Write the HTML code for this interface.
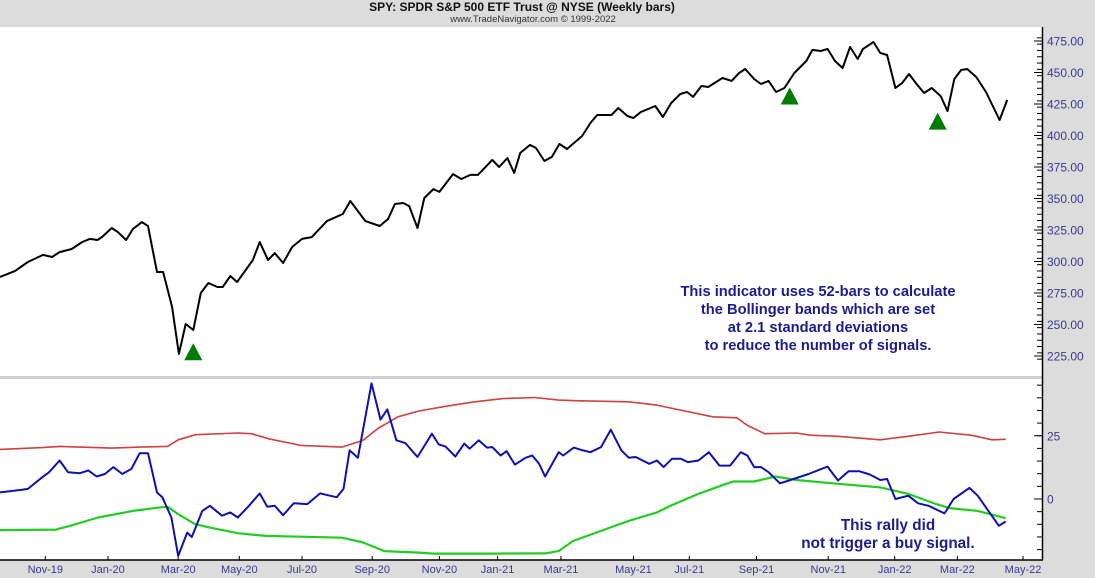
<!DOCTYPE html>
<html><head><meta charset="utf-8">
<style>
html,body{margin:0;padding:0;background:#dcdcdc;}
svg{display:block;font-family:"Liberation Sans",Arial,sans-serif;}
</style></head>
<body>
<svg id="chart" width="1095" height="578" viewBox="0 0 1095 578">
<rect x="0" y="0" width="1095" height="578" fill="#dcdcdc"/>
<g>
<text x="522" y="11" text-anchor="middle" font-size="12" font-weight="bold" fill="#111">SPY:  SPDR S&amp;P 500 ETF Trust @ NYSE  (Weekly bars)</text>
<text x="533" y="22" text-anchor="middle" font-size="9.5" fill="#333">www.TradeNavigator.com © 1999-2022</text>
</g>
<rect x="0" y="27" width="1043" height="349" fill="#fff"/>
<rect x="0" y="376" width="1043" height="3" fill="#d0d0d0"/>
<rect x="0" y="379" width="1043" height="181" fill="#fff"/>
<line x1="1042.5" y1="27" x2="1042.5" y2="560" stroke="#000" stroke-width="1.5"/>
<line x1="0" y1="560" x2="1043" y2="560" stroke="#000" stroke-width="1.5"/>
<g id="axes"></g>
<g id="marks"></g>
<g font-size="14.7" font-weight="bold" fill="#1c1c8e" text-anchor="middle">
<text x="818" y="296">This indicator uses 52-bars to calculate</text>
<text x="818" y="314">the Bollinger bands which are set</text>
<text x="818" y="332">at 2.1 standard deviations</text>
<text x="818" y="350">to reduce the number of signals.</text>
</g>
<g font-size="15.3" font-weight="bold" fill="#1c1c8e" text-anchor="middle">
<text x="888" y="530">This rally did</text>
<text x="888" y="548">not trigger a buy signal.</text>
</g>
</svg>
<script>
// ---- data ----
const priceWeeks=[0,2,3.7,5.7,6.9,7.9,9.5,10.9,11.9,12.9,13.5,14.8,15.6,16.7,17.6,18.8,19.6,20.8,21.6,22.8,23.7,24.6,25.6,26.6,27.6,28.8,29.5,30.5,31.4,33.5,34.4,35.5,36.4,37.5,38.7,40,41.3,43.3,45.4,46.4,48.4,50.3,51.4,52.3,53.4,54.2,55.3,56.2,57.4,58.2,60,61.1,62.3,63.3,65.2,66.1,67.2,68.1,68.9,70.2,71,72.1,73.1,74.1,75.1,77.1,78.2,79.1,81,81.9,83.1,83.9,84.9,86.8,87.8,88.9,90.1,91,91.8,92.9,93.8,95.7,96.9,97.9,98.7,99.9,100.8,101.8,102.8,103.9,105.2,106.8,107.6,108.7,109.6,110.6,111.6,112.6,113.6,114.3,115.7,116.6,117.5,118.6,119.5,120.4,121.4,122.4,123.4,124.6,125.5,126.4,127.3,128.1,129.3,130.6,132.4,133.4];
const priceValues=[287.7,292.5,299.6,305.2,303.6,307.5,309.9,315.5,317.9,317.1,319.4,326.6,323.4,317.1,325.8,331.3,328.2,291.7,291.7,263.9,226.6,250.4,245.6,275.0,282.9,279.8,279.8,288.5,283.7,301.2,315.5,301.2,306.7,298.8,311.5,317.9,319.4,332.1,337.7,348.0,332.1,328.2,333.7,345.6,346.4,344.0,326.6,350.4,357.5,355.2,369.4,365.5,368.7,368.7,380.6,375.0,382.1,370.2,386.1,392.5,390.1,379.8,383.0,393.3,389.3,399.6,409.9,416.3,416.3,421.8,415.5,413.9,418.7,423.4,414.7,425.8,432.9,434.5,430.6,439.3,438.5,445.6,443.3,449.6,452.8,444.8,440.9,443.3,434.5,437.7,449.6,459.1,467.9,467.1,468.7,459.1,453.6,470.2,460.7,468.7,474.2,465.5,463.9,437.7,441.7,448.8,440.9,433.7,437.7,431.3,419.4,444.8,452.0,452.8,446.4,434.5,412.3,428.2];
const oscWeeks=[0,2.8,3.7,5.6,6.5,7.9,9.0,10.6,11.7,12.8,13.9,15.0,16.2,17.4,18.5,19.6,20.8,21.5,22.7,23.6,24.8,25.4,26.8,27.8,29.4,30.5,31.5,32.8,34.4,35.4,36.4,37.5,38.9,40.7,42.4,43.7,44.6,45.5,46.3,47.4,49.2,50.4,51.3,52.5,53.7,55.3,57.2,58.1,59.0,60.3,61.5,62.2,63.4,64.5,65.2,66.3,67.1,68.2,69.6,70.5,71.4,72.2,74.0,74.6,76.0,77.2,78.2,79.6,80.9,82.3,83.3,84.2,86.0,87.0,87.9,89.0,90.2,91.1,92.5,93.9,95.3,96.7,98.1,99.0,99.9,100.8,101.8,103.3,104.5,105.5,107.1,109.6,111.0,112.4,113.8,115.2,116.6,117.5,118.6,120.3,121.6,123.0,125.1,126.3,128.4,129.5,132.3,133.2];
const oscValues=[2.6,3.6,4.0,8.6,10.6,15.2,10.6,10.2,11.3,8.9,9.9,12.6,9.9,11.9,18.1,18.1,2.6,0.7,-7.3,-22.5,-13.3,-15.0,-4.7,-2.7,-6.6,-5.3,-7.3,-3.3,2.2,-3.1,-2.7,-6.4,-1.7,-2.0,2.2,1.3,0.7,4.0,19.2,16.3,45.7,31.4,35.4,23.2,22.1,16.6,25.8,21.6,20.8,16.8,21.9,19.9,23.2,20.3,20.5,17.2,18.9,13.6,16.3,17.2,13.9,8.9,18.5,17.2,20.3,19.2,18.5,20.5,27.4,19.2,16.3,16.6,13.9,15.2,12.6,15.9,15.9,14.6,15.2,18.5,13.2,13.2,18.5,17.2,12.6,12.6,10.6,6.2,7.3,8.3,9.9,12.8,7.3,11.0,11.0,9.7,7.5,7.9,0.0,1.3,-1.7,-2.7,-5.7,0.0,4.4,1.3,-10.6,-8.9];
const upperWeeks=[0,5.6,7.9,14.8,18.5,22.2,23.6,25.9,31.5,33.3,35.6,39.8,45.3,48.1,50.0,52.7,55.5,59.2,62.9,66.6,70.8,74.0,76.8,83.3,87.0,90.7,94.4,97.6,99.0,101.3,105.5,107.3,111.0,116.6,120.3,124.4,128.6,131.4,133.2];
const upperValues=[19.6,20.3,20.8,20.1,20.5,20.8,23.4,25.4,26.1,25.8,23.8,21.2,20.5,23.2,27.8,32.5,34.8,36.7,38.4,39.7,40.1,39.1,38.8,38.4,37.1,34.8,32.5,32.1,29.1,25.8,26.1,25.2,24.8,23.4,24.8,26.5,25.2,23.4,23.6];
const lowerWeeks=[0,7.4,9.3,13.0,17.6,21.3,22.2,23.6,25.9,27.8,31.5,35.2,39.8,45.3,48.1,50.9,55.5,57.4,64.8,72.2,74.0,75.9,79.6,83.3,87.0,88.8,92.5,96.2,97.1,99.9,102.7,105.5,111.0,116.6,120.3,124.0,125.8,129.5,133.2];
const lowerValues=[-12.3,-12.1,-10.6,-7.3,-4.7,-3.3,-3.1,-6.0,-10.0,-11.3,-13.5,-14.6,-14.9,-15.3,-17.2,-20.6,-21.2,-21.6,-21.6,-21.5,-20.6,-16.6,-12.6,-8.6,-5.3,-2.7,2.0,6.0,6.9,6.9,8.9,7.5,6.0,4.6,2.0,-2.0,-3.6,-4.7,-7.6];
const signalWeeks=[25.6,104.6,124.2];
const signalPrices=[228,431,411];
const monthLabels=["Nov-19","Jan-20","Mar-20","May-20","Jul-20","Sep-20","Nov-20","Jan-21","Mar-21","May-21","Jul-21","Sep-21","Nov-21","Jan-22","Mar-22","May-22"];
const monthWeeks=[6,14.3,23.6,31.7,40,49.3,58.2,65.9,74.3,83.9,91.3,100.2,109.7,118.5,126.8,135.5];
const priceTicks=[225,250,275,300,325,350,375,400,425,450,475];
const oscTicks=[0,25];

// ---- scales ----
const xS=w=>w*7.55;
const yP=v=>356-(v-225)*1.26;
const yO=v=>499-v*2.53;
const NS='http://www.w3.org/2000/svg';
const axes=document.getElementById('axes'), marks=document.getElementById('marks');
function mk(tag,attrs,parent){const e=document.createElementNS(NS,tag);for(const k in attrs)e.setAttribute(k,attrs[k]);parent.appendChild(e);return e;}

for(let v=222.5;v<=480;v+=5){
  const t=mk('line',{x1:1037,x2:1042,y1:yP(v),y2:yP(v),stroke:'#000','stroke-width':1},axes);
  
  
}
priceTicks.forEach(v=>{
  const t=mk('line',{x1:1034,x2:1042,y1:yP(v),y2:yP(v),stroke:'#000','stroke-width':1},axes);
  
  
  const l=mk('text',{x:1047,y:yP(v)+4.5,'font-size':12,fill:'#3a3a90'},axes);
  l.textContent=v.toFixed(2);
  
  
});
for(let v=-20;v<=45;v+=5){
  const t=mk('line',{x1:1037,x2:1042,y1:yO(v),y2:yO(v),stroke:'#000','stroke-width':1},axes);
  
  
}
oscTicks.forEach(v=>{
  const t=mk('line',{x1:1034,x2:1042,y1:yO(v),y2:yO(v),stroke:'#000','stroke-width':1},axes);
  
  
  const l=mk('text',{x:1047,y:yO(v)+4.5,'font-size':12,fill:'#3a3a90'},axes);
  l.textContent=String(v);
  
  
});
monthLabels.forEach((m,i)=>{
  const x=xS(monthWeeks[i]);
  const t=mk('line',{x1:x,x2:x,y1:556,y2:560,stroke:'#000','stroke-width':1},axes);
  
  
  const l=mk('text',{x:x,y:573,'font-size':11,fill:'#3a3a90','text-anchor':'middle'},axes);
  l.textContent=m;
  
  
});

function line(ws,vs,ys,color,width,name){
  const d=ws.map((w,i)=>(i?'L':'M')+xS(w).toFixed(1)+','+ys(vs[i]).toFixed(1)).join('');
  const p=mk('path',{d:d,fill:'none',stroke:color,'stroke-width':width,'stroke-linejoin':'round'},marks);
  
  
}
line(upperWeeks,upperValues,yO,'#d04040',1.6,'upper-bollinger-band');
line(lowerWeeks,lowerValues,yO,'#22cc22',2.2,'lower-bollinger-band');
line(oscWeeks,oscValues,yO,'#1010b0',2,'indicator-line');
line(priceWeeks,priceValues,yP,'#000',2,'price-line');
signalWeeks.forEach((w,i)=>{
  const x=xS(w), y=yP(signalPrices[i]);
  const p=mk('polygon',{points:`${x},${y-9} ${x-9},${y+8} ${x+9},${y+8}`,fill:'#007a00'},marks);
  
  
});
</script>
</body></html>
